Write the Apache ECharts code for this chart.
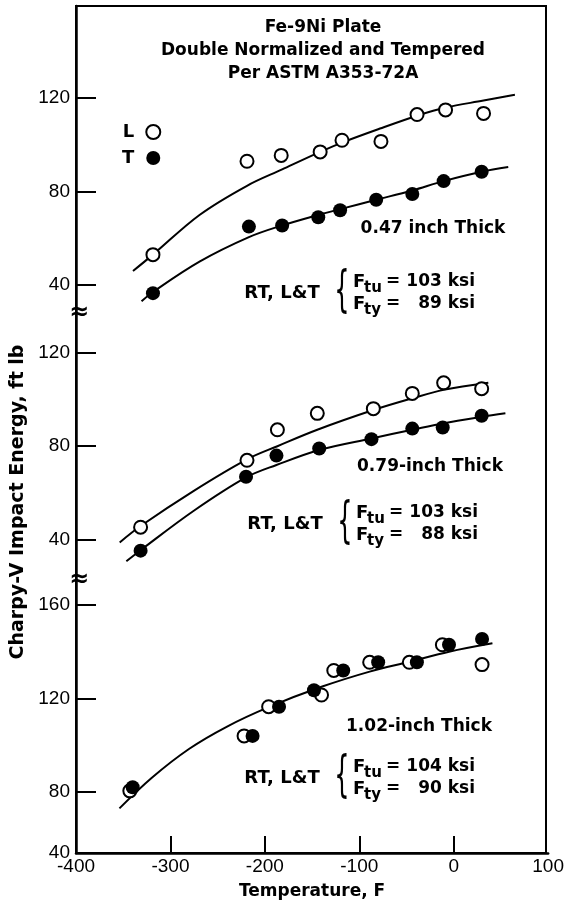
<!DOCTYPE html>
<html>
<head>
<meta charset="utf-8">
<script src="https://cdn.jsdelivr.net/npm/echarts@6/dist/echarts.min.js"></script>
<style>
html, body { margin: 0; padding: 0; background: #fff; }
#chart { width: 567px; height: 904px; }
</style>
</head>
<body>
<div id="chart"></div>
<script>
// temperature in F, Charpy-V energy in ft lb
const tempTicks = [-400, -300, -200, -100, 0, 100]

// 0.47 inch plate
const thinL = [[-319, 53], [-220, 93], [-184, 95.5], [-143, 97], [-120, 102], [-79, 101.5], [-41, 113], [-11, 115], [29, 113.5]]
const thinT = [[-319, 36.5], [-218, 65], [-183, 65.5], [-145, 69], [-122, 72], [-84, 76.5], [-46, 79], [-13, 84.5], [27, 88.5]]
const thinFitL = [[-340, 46], [-319, 53], [-270, 70], [-220, 82.5], [-183, 89.5], [-143, 97], [-120, 101], [-80, 107], [-41, 112.5], [-11, 116], [29, 119], [62, 121.5]]
const thinFitT = [[-331, 33], [-319, 37], [-270, 50], [-218, 60.5], [-183, 65.5], [-145, 70], [-122, 72.5], [-84, 76.5], [-46, 80.5], [-13, 84.5], [27, 88.5], [55, 90.5]]

// 0.79 inch plate
const midL = [[-332, 45.5], [-220, 74], [-188, 87], [-146, 94], [-87, 96], [-46, 102.5], [-13, 107], [27, 104.5]]
const midT = [[-332, 35.5], [-221, 67], [-189, 76], [-144, 79], [-89, 83], [-46, 87.5], [-14, 88], [27, 93]]
const midFitL = [[-354, 39], [-332, 46], [-276, 61], [-220, 74.4], [-188, 80], [-146, 87], [-87, 95.4], [-46, 100.4], [-13, 104], [34, 107]]
const midFitT = [[-347, 31], [-332, 35.7], [-276, 52.5], [-221, 66.7], [-189, 72], [-144, 78.4], [-89, 83.3], [-46, 87], [-14, 89.7], [27, 92.5], [52, 94]]

// 1.02 inch plate
const thickL = [[-343, 80.5], [-222, 104], [-196, 116.5], [-140, 121.5], [-127, 132], [-89, 135.5], [-47, 135.5], [-12, 143], [30, 134.5]]
const thickT = [[-340, 82], [-213, 104], [-185, 116.5], [-148, 123.5], [-117, 132], [-80, 135.5], [-39, 135.5], [-5, 143], [30, 145.5]]
const thickFit = [[-354, 73], [-320, 86], [-280, 98.5], [-240, 108], [-196, 116.3], [-140, 125], [-89, 131.5], [-47, 135.7], [-5, 140], [41, 143.6]]

const plateLabels = ['0.47 inch Thick', '0.79-inch Thick', '1.02-inch Thick']
const ftuKsi = [103, 103, 104]
const ftyKsi = [89, 88, 90]

// panel y ranges (the bottom corner is labelled 40 in the original, not to scale)
const panelTicks = [[40, 80, 120], [40, 80, 120], [80, 120, 160]]
const panelMin = [28, 23, 53.9]
const panelMax = [159.5, 136.75, 170.7]
const cornerLabel = '40'

const boldFont = 'DejaVu Sans'
const panels = [
  { top: 6, height: 307, thick: [433, 229], rt: [282, 293] },
  { top: 313, height: 267, thick: [430, 467], rt: [285, 524] },
  { top: 580, height: 273, thick: [419, 727], rt: [282, 778] }
]

const chart = echarts.init(document.getElementById('chart'))

const grids = panels.map(p => ({ left: 76, width: 475, top: p.top, height: p.height }))
grids.push({ left: 76, top: 6, width: 470, height: 847, show: true, borderColor: '#000', borderWidth: 2 })

const xAxes = panels.map((p, i) => ({
  type: 'value',
  gridIndex: i,
  min: -400,
  max: 100,
  show: i === 2,
  splitLine: { show: false },
  axisLine: { onZero: false, lineStyle: { color: '#000', width: 2.5 } },
  axisTick: { inside: true, length: 17, customValues: [-300, -200, -100, 0], lineStyle: { color: '#000', width: 2 } },
  axisLabel: { customValues: tempTicks, color: '#000', fontSize: 19, fontFamily: 'Liberation Sans', margin: 4 },
  name: i === 2 ? 'Temperature, F' : '',
  nameLocation: 'middle',
  nameGap: 30,
  nameTextStyle: { color: '#000', fontSize: 17, fontWeight: 'bold', fontFamily: boldFont }
}))
xAxes.push({ type: 'value', gridIndex: 3, show: false, min: 0, max: 1 })

const yAxes = panels.map((p, i) => ({
  type: 'value',
  gridIndex: i,
  min: panelMin[i],
  max: panelMax[i],
  splitLine: { show: false },
  axisLine: { show: true, onZero: false, lineStyle: { color: '#000', width: 2.5 } },
  axisTick: { show: true, inside: true, length: 20, customValues: panelTicks[i], lineStyle: { color: '#000', width: 2 } },
  axisLabel: {
    customValues: i === 2 ? [panelMin[2]].concat(panelTicks[2]) : panelTicks[i],
    formatter: v => (i === 2 && v === panelMin[2]) ? cornerLabel : String(v),
    color: '#000',
    fontSize: 19,
    fontFamily: 'Liberation Sans',
    margin: 6
  }
}))
yAxes.push({ type: 'value', gridIndex: 3, show: false, min: 0, max: 1 })

const openDot = { color: '#fff', borderColor: '#000', borderWidth: 2, opacity: 1 }
const fullDot = { color: '#000', opacity: 1 }

function fitLine (data, i, name) {
  return {
    name: name,
    type: 'line',
    xAxisIndex: i,
    yAxisIndex: i,
    data: data,
    smooth: 0.35,
    showSymbol: false,
    silent: true,
    z: 1,
    lineStyle: { color: '#000', width: 2 }
  }
}
function dots (data, i, name, style, size) {
  return {
    name: name,
    type: 'scatter',
    xAxisIndex: i,
    yAxisIndex: i,
    data: data,
    symbol: 'circle',
    symbolSize: size,
    itemStyle: style,
    z: 3
  }
}

const series = [
  fitLine(thinFitL, 0, 'fitL0'), fitLine(thinFitT, 0, 'fitT0'),
  fitLine(midFitL, 1, 'fitL1'), fitLine(midFitT, 1, 'fitT1'),
  fitLine(thickFit, 2, 'fit2'),
  dots(thinL, 0, 'L', openDot, 13), dots(thinT, 0, 'T', fullDot, 14),
  dots(midL, 1, 'L', openDot, 13), dots(midT, 1, 'T', fullDot, 14),
  dots(thickL, 2, 'L', openDot, 13), dots(thickT, 2, 'T', fullDot, 14)
]

const txt = (x, y, text, size, align, extra) => Object.assign({
  type: 'text',
  x: x,
  y: y,
  style: { text: text, fill: '#000', font: 'bold ' + size + 'px "' + boldFont + '"', align: align || 'center', verticalAlign: 'middle' }
}, extra || {})

const graphics = []
panels.forEach((p, i) => {
  const cx = p.rt[0]
  const cy = p.rt[1]
  graphics.push(txt(p.thick[0], p.thick[1], plateLabels[i], 17))
  graphics.push(txt(cx, cy, 'RT, L&T', 18))
  graphics.push({
    type: 'text', x: cx + 60, y: cy, scaleY: 2.1,
    style: { text: '{', fill: '#000', font: '24px "DejaVu Sans"', align: 'center', verticalAlign: 'middle' }
  })
  graphics.push(txt(cx + 71, cy - 11, 'F', 18, 'left'))
  graphics.push(txt(cx + 82, cy - 5, 'tu', 15, 'left'))
  graphics.push(txt(cx + 104, cy - 11, '=', 17, 'left'))
  graphics.push(txt(cx + 193, cy - 11, ftuKsi[i] + ' ksi', 17, 'right'))
  graphics.push(txt(cx + 71, cy + 11, 'F', 18, 'left'))
  graphics.push(txt(cx + 82, cy + 17, 'ty', 15, 'left'))
  graphics.push(txt(cx + 104, cy + 11, '=', 17, 'left'))
  graphics.push(txt(cx + 193, cy + 11, ftyKsi[i] + ' ksi', 17, 'right'))
})
// axis break marks
graphics.push(txt(79, 313, '\u2248', 24))
graphics.push(txt(79, 580, '\u2248', 24))
// y axis name
graphics.push(txt(18, 502, 'Charpy-V Impact Energy, ft lb', 19, 'center', { rotation: Math.PI / 2 }))

chart.setOption({
  animation: false,
  backgroundColor: '#fff',
  title: {
    text: 'Fe-9Ni Plate\nDouble Normalized and Tempered\nPer ASTM A353-72A',
    left: 318,
    top: 11,
    textAlign: 'center',
    textStyle: { color: '#000', fontSize: 17, fontWeight: 'bold', fontFamily: boldFont, lineHeight: 23 }
  },
  legend: {
    data: ['L', 'T'],
    orient: 'vertical',
    left: 117,
    top: 118,
    align: 'right',
    itemWidth: 14,
    itemHeight: 14,
    itemGap: 8,
    selectedMode: false,
    textStyle: { color: '#000', fontSize: 18, fontWeight: 'bold', fontFamily: boldFont, padding: [0, 7, 0, 0] }
  },
  grid: grids,
  xAxis: xAxes,
  yAxis: yAxes,
  series: series,
  graphic: graphics
})
</script>
</body>
</html>
